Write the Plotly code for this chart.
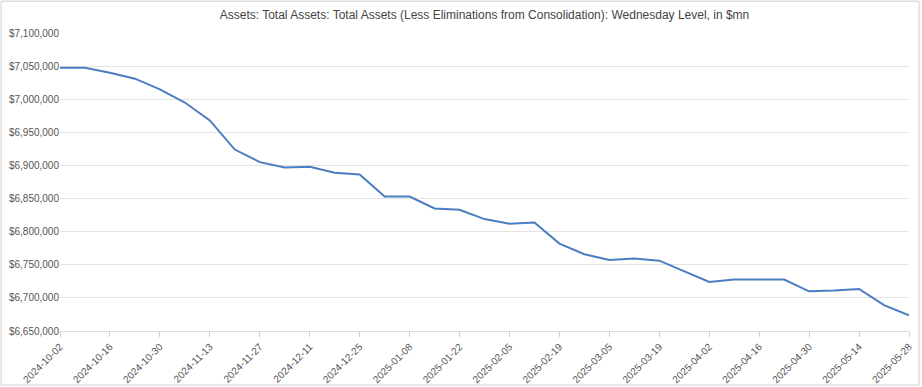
import pandas as pd
import plotly.graph_objects as go

dates = pd.date_range("2024-10-02", "2025-05-28", freq="7D").strftime("%Y-%m-%d").tolist()
values = [
    7047500, 7047500, 7040000, 7031000, 7015000, 6995000, 6968000, 6924000,
    6905000, 6897000, 6898000, 6889000, 6886500, 6853000, 6853000, 6835000,
    6833000, 6819000, 6812000, 6814000, 6782000, 6766000, 6757200, 6759600,
    6756200, 6740000, 6724100, 6727600, 6727600, 6727600, 6709900, 6711000,
    6713500, 6689000, 6673800,
]
tick_labels = dates[::2]
title = "Assets: Total Assets: Total Assets (Less Eliminations from Consolidation): Wednesday Level, in $mn"

fig = go.Figure(
    go.Scatter(x=dates, y=values, mode="lines",
               line=dict(color="#4a7ec2", width=2), hoverinfo="x+y")
)

fig.update_layout(
    width=922, height=387,
    margin=dict(l=60, r=13, t=33, b=56, autoexpand=False),
    paper_bgcolor="white", plot_bgcolor="white",
    font=dict(family="Liberation Sans, Arial, sans-serif", color="#555", size=10),
    title=dict(text=title, x=0.5, xanchor="center", xref="paper",
               y=1 - 15 / 387, yref="container", yanchor="middle",
               font=dict(size=12, color="#444")),
    showlegend=False,
    shapes=[dict(type="rect", xref="paper", yref="paper",
                 x0=-0.0694, x1=1.0118, y0=-0.181, y1=1.107,
                 line=dict(color="#cfcfcf", width=1), layer="below")],
)

fig.update_xaxes(
    type="date", range=[dates[0], dates[-1]], automargin=False,
    tickmode="array", tickvals=tick_labels, ticktext=tick_labels,
    tickangle=-45, ticks="outside", ticklen=5, tickcolor="#d0d0d0",
    showgrid=False, showline=True, linecolor="#dcdcdc", linewidth=1,
    tickfont=dict(size=10, color="#555"), zeroline=False,
)
fig.update_yaxes(
    range=[6650000, 7100000], dtick=50000, tick0=6650000, automargin=False,
    tickprefix="$", tickformat=",d",
    showgrid=True, gridcolor="#e3e3e3", gridwidth=1,
    zeroline=False, showline=False, ticks="",
    tickfont=dict(size=10, color="#555"),
)

fig.write_html(
    "out.html",
    config={"displayModeBar": False},
    post_script="document.body.style.margin='0';document.body.style.overflow='hidden';",
)
